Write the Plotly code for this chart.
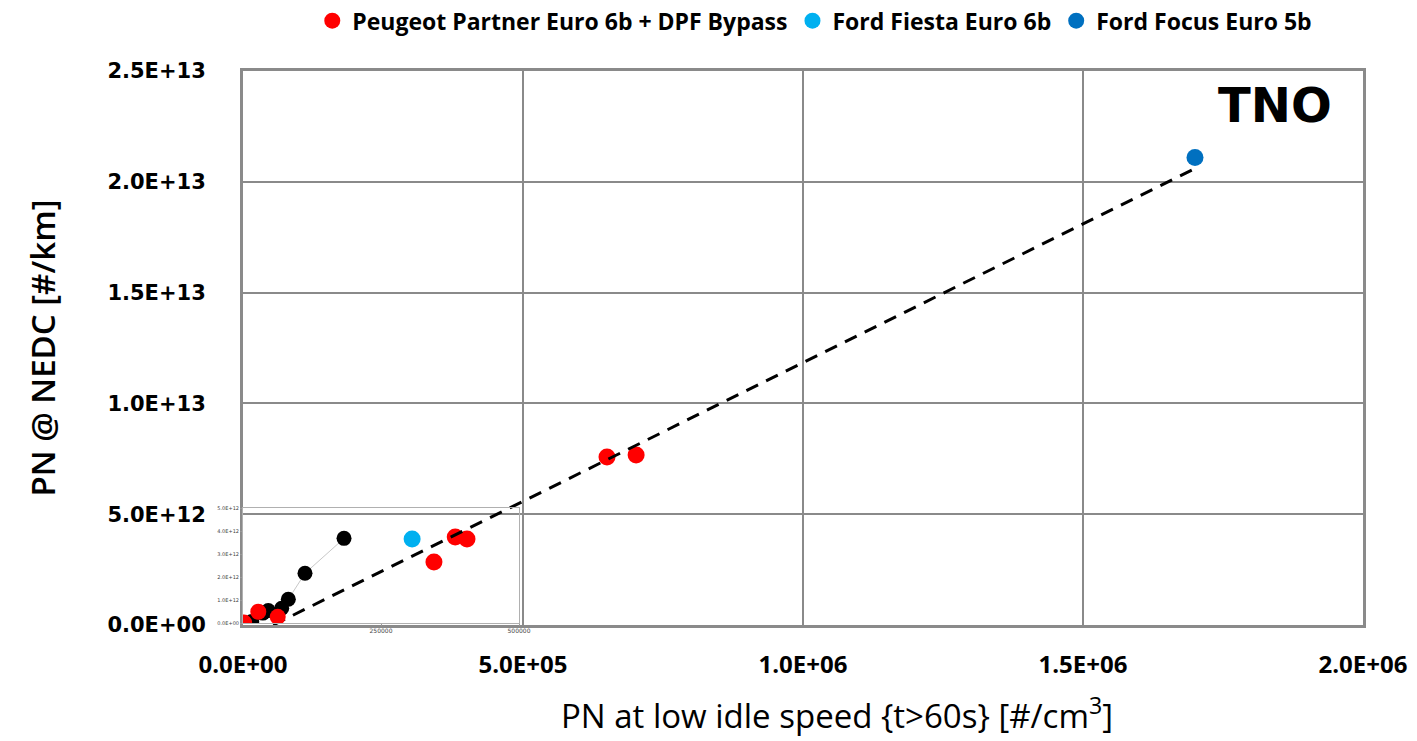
import plotly.graph_objects as go

# ---- main chart data: PN at low idle vs PN over NEDC ----
peugeot_x = [3.41e5, 3.79e5, 4.00e5, 6.50e5, 7.02e5]
peugeot_y = [2.84e12, 3.97e12, 3.88e12, 7.58e12, 7.67e12]

fiesta_x = [3.02e5]
fiesta_y = [3.88e12]

focus_x = [1.70e6]
focus_y = [2.11e13]

trend_x = [5.4e4, 1.70e6]
trend_y = [0.0, 2.06e13]

x_ticks = [0, 5e5, 1e6, 1.5e6, 2e6]
x_ticktext = ["0.0E+00", "5.0E+05", "1.0E+06", "1.5E+06", "2.0E+06"]
y_ticks = [0, 5e12, 1e13, 1.5e13, 2e13, 2.5e13]
y_ticktext = ["0.0E+00", "5.0E+12", "1.0E+13", "1.5E+13", "2.0E+13", "2.5E+13"]

# ---- inset chart data (low-emission zoom) ----
inset_black_x = [1.58e4, 3.60e4, 4.58e4, 7.01e4, 8.21e4, 1.123e5, 1.83e5]
inset_black_y = [0.06e12, 0.43e12, 0.54e12, 0.64e12, 1.03e12, 2.16e12, 3.68e12]
inset_red_x = [2.0e3, 2.77e4, 6.29e4]
inset_red_y = [0.02e12, 0.49e12, 0.27e12]

inset_x_ticks = [250000, 500000]
inset_x_ticktext = ["250000", "500000"]
inset_y_ticks = [0, 1e12, 2e12, 3e12, 4e12, 5e12]
inset_y_ticktext = ["0.0E+00", "1.0E+12", "2.0E+12", "3.0E+12", "4.0E+12", "5.0E+12"]

RED = "#FF0000"
LIGHT_BLUE = "#00B0F0"
DARK_BLUE = "#0070C0"
GRID = "#8a8a8a"

fig = go.Figure()

# inset series first so the main chart marks sit on top
fig.add_trace(go.Scatter(
    x=inset_black_x, y=inset_black_y, mode="lines+markers", showlegend=False,
    line=dict(color="#c8c8c8", width=1),
    marker=dict(color="black", size=15), xaxis="x2", yaxis="y2"))
fig.add_trace(go.Scatter(
    x=inset_red_x, y=inset_red_y, mode="markers", showlegend=False,
    marker=dict(color=RED, size=16), xaxis="x2", yaxis="y2"))

fig.add_trace(go.Scatter(
    x=peugeot_x, y=peugeot_y, mode="markers", name="Peugeot Partner Euro 6b + DPF Bypass",
    marker=dict(color=RED, size=17), xaxis="x", yaxis="y"))
fig.add_trace(go.Scatter(
    x=fiesta_x, y=fiesta_y, mode="markers", name="Ford Fiesta Euro 6b",
    marker=dict(color=LIGHT_BLUE, size=17), xaxis="x", yaxis="y"))
fig.add_trace(go.Scatter(
    x=focus_x, y=focus_y, mode="markers", name="Ford Focus Euro 5b",
    marker=dict(color=DARK_BLUE, size=17), xaxis="x", yaxis="y"))
fig.add_trace(go.Scatter(
    x=trend_x, y=trend_y, mode="lines", showlegend=False, hoverinfo="skip",
    line=dict(color="black", width=3, dash="13px,9px"), xaxis="x", yaxis="y"))

PLOT_L = 243
PLOT_T = 71
PLOT_W = 1120
PLOT_H = 554

fig.update_layout(
    width=1417, height=741,
    margin=dict(l=PLOT_L, r=54, t=PLOT_T, b=116),
    paper_bgcolor="white", plot_bgcolor="rgba(0,0,0,0)",
    font=dict(family="Open Sans", color="black"),
    showlegend=True,
    legend=dict(
        orientation="h", xref="container", yref="container",
        x=0.575, y=0.972, xanchor="center", yanchor="middle",
        font=dict(family="Open Sans", size=23, weight=700),
        itemwidth=30, tracegroupgap=0, bgcolor="rgba(0,0,0,0)"),
    xaxis=dict(
        range=[0, 2e6], domain=[0, 1], automargin=False,
        tickvals=x_ticks, ticktext=x_ticktext, ticks="",
        tickfont=dict(family="Open Sans", size=24, weight=700),
        ticklabelstandoff=16,
        showgrid=True, gridcolor=GRID, gridwidth=2,
        showline=True, linecolor=GRID, linewidth=3, mirror=True,
        zeroline=False),
    yaxis=dict(
        range=[0, 2.5e13], domain=[0, 1], automargin=False,
        tickvals=y_ticks, ticktext=y_ticktext, ticks="",
        tickfont=dict(family="DejaVu Sans", size=21, weight=700),
        ticklabelstandoff=30,
        showgrid=True, gridcolor=GRID, gridwidth=2,
        showline=True, linecolor=GRID, linewidth=3, mirror=True,
        zeroline=False,
        title=dict(text="PN @ NEDC [#/km]",
                   font=dict(family="Open Sans", size=33, weight=600), standoff=42)),
    xaxis2=dict(
        range=[0, 5e5], domain=[0, 276 / PLOT_W], anchor="y2", automargin=False,
        tickvals=inset_x_ticks, ticktext=inset_x_ticktext,
        ticks="outside", ticklen=2, tickcolor="#999",
        tickfont=dict(family="DejaVu Sans", size=6, color="#444"),
        showgrid=False, zeroline=False,
        showline=True, linecolor="#b0b0b0", linewidth=1, mirror=True),
    yaxis2=dict(
        range=[0, 5e12], domain=[2 / PLOT_H, 117 / PLOT_H], anchor="x2", automargin=False,
        tickvals=inset_y_ticks, ticktext=inset_y_ticktext,
        ticks="outside", ticklen=2, tickcolor="#999",
        tickfont=dict(family="DejaVu Sans", size=5, color="#444"),
        showgrid=False, zeroline=False,
        showline=True, linecolor="#b0b0b0", linewidth=1, mirror=True),
    annotations=[
        dict(text="<b>TNO</b>", xref="paper", yref="paper",
             x=(1275 - PLOT_L) / PLOT_W, y=(PLOT_T + PLOT_H - 105) / PLOT_H,
             xanchor="center", yanchor="middle", showarrow=False,
             font=dict(family="DejaVu Sans", size=48, color="black")),
        dict(text="PN at low idle speed {t>60s} [#/cm<sup>3</sup>]",
             xref="paper", yref="paper",
             x=(837 - PLOT_L) / PLOT_W, y=(PLOT_T + PLOT_H - 713) / PLOT_H,
             xanchor="center", yanchor="middle", showarrow=False,
             font=dict(family="Open Sans", size=33, color="black")),
    ],
)

fig.write_html("out.html")
